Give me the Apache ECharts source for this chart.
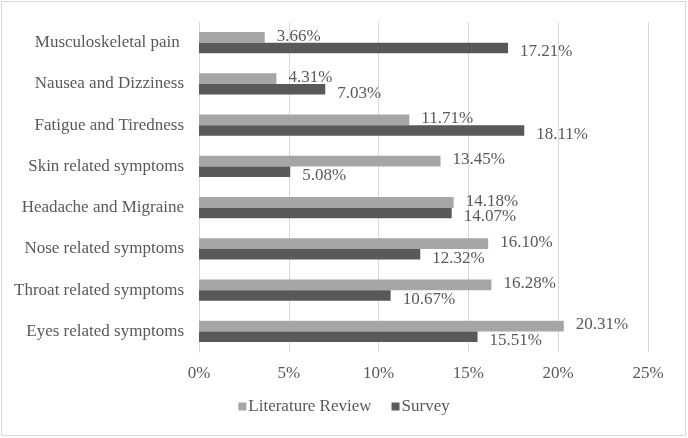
<!DOCTYPE html>
<html><head><meta charset="utf-8">
<script src="https://cdn.jsdelivr.net/npm/echarts@6/dist/echarts.min.js"></script>
<style>html,body{margin:0;padding:0;background:#fff}#c{width:688px;height:438px}</style>
</head><body><div id="c"></div>
<script>
const categories = ['Musculoskeletal pain ', 'Nausea and Dizziness', 'Fatigue and Tiredness', 'Skin related symptoms', 'Headache and Migraine', 'Nose related symptoms', 'Throat related symptoms', 'Eyes related symptoms'];
const literatureReview = [3.66, 4.31, 11.71, 13.45, 14.18, 16.10, 16.28, 20.31];
const survey = [17.21, 7.03, 18.11, 5.08, 14.07, 12.32, 10.67, 15.51];
const xTicks = [0, 5, 10, 15, 20, 25];

const font = 'Liberation Serif, Times New Roman, serif';
const txt = '#595959';
const chart = echarts.init(document.getElementById('c'));
chart.setOption({
  animation: false,
  graphic: [{type:'rect', shape:{x:1.5,y:1.5,width:684,height:434}, style:{fill:'none', stroke:'#d9d9d9', lineWidth:1}}],
  grid: {left:199, right:40, top:22, bottom:86},
  legend: {
    bottom: 18, left: 'center', itemWidth: 8, itemHeight: 8, itemGap: 20,
    icon: 'rect',
    textStyle: {fontFamily: font, fontSize: 17, color: txt, padding:[0,0,0,-3]},
    data: ['Literature Review', 'Survey']
  },
  xAxis: {
    type: 'value', min: xTicks[0], max: xTicks[xTicks.length-1], interval: 5,
    axisLine: {show:false}, axisTick: {show:false},
    splitLine: {lineStyle: {color:'#d9d9d9', width:1}},
    axisLabel: {formatter: v => v + '%', fontFamily: font, fontSize: 17, color: txt, margin: 13}
  },
  yAxis: {
    type: 'category', data: categories, inverse: true,
    axisLine: {show:true, lineStyle:{color:'#d9d9d9'}}, axisTick: {show:false},
    axisLabel: {fontFamily: font, fontSize: 17, color: txt, margin: 15}
  },
  series: [
    {name:'Literature Review', type:'bar', data: literatureReview, barGap:'0%', barCategoryGap:'48%',
     itemStyle:{color:'#a6a6a6'},
     label:{show:true, position:'right', distance:12, offset:[0,-1], formatter: p => p.value.toFixed(2) + '%', fontFamily: font, fontSize: 17, color: txt}},
    {name:'Survey', type:'bar', data: survey, barGap:'0%', barCategoryGap:'48%',
     itemStyle:{color:'#595959'},
     label:{show:true, position:'right', distance:12, offset:[0,4], formatter: p => p.value.toFixed(2) + '%', fontFamily: font, fontSize: 17, color: txt}}
  ]
});
</script></body></html>
